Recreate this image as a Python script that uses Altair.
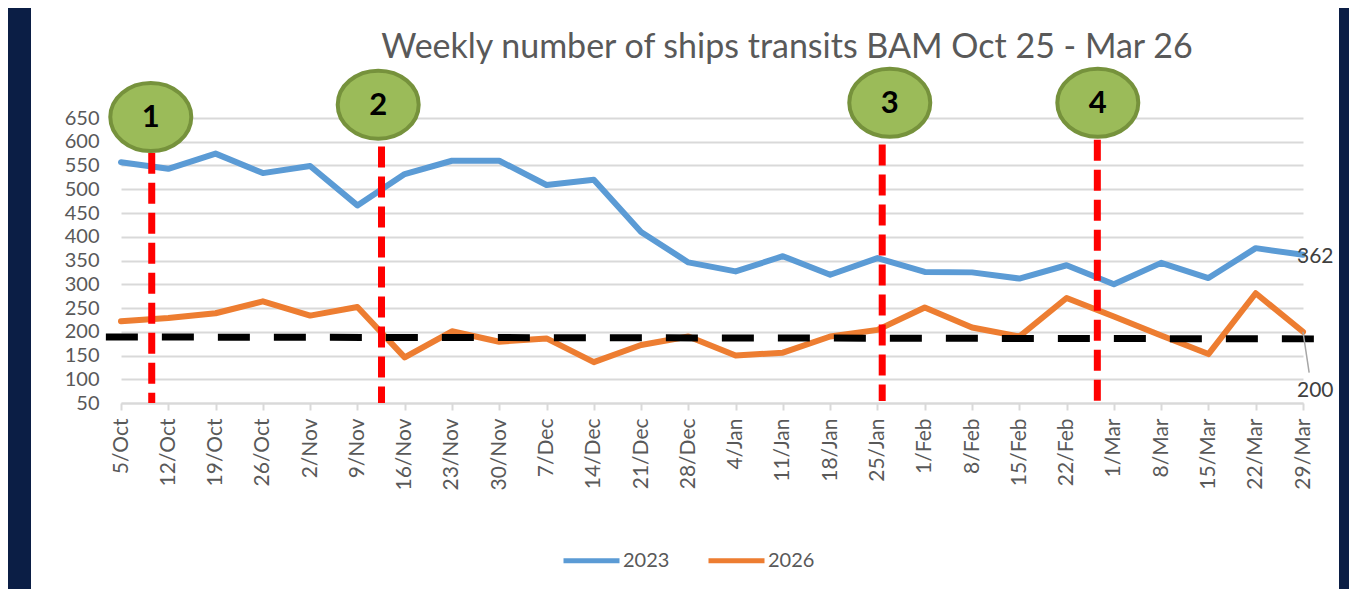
import altair as alt
import pandas as pd

weeks = ["5/Oct", "12/Oct", "19/Oct", "26/Oct", "2/Nov", "9/Nov", "16/Nov", "23/Nov",
         "30/Nov", "7/Dec", "14/Dec", "21/Dec", "28/Dec", "4/Jan", "11/Jan", "18/Jan",
         "25/Jan", "1/Feb", "8/Feb", "15/Feb", "22/Feb", "1/Mar", "8/Mar", "15/Mar",
         "22/Mar", "29/Mar"]
ships_2023 = [557, 543, 575, 534, 549, 466, 532, 560, 560, 509, 520, 410, 346, 327,
              359, 320, 355, 326, 325, 312, 340, 300, 345, 313, 376, 362]
ships_2026 = [222, 229, 239, 264, 234, 252, 146, 201, 179, 186, 136, 172, 190, 150,
              156, 190, 204, 251, 209, 190, 271, 232, 192, 153, 281, 200]
series_names = ["2023", "2026"]
series_colors = ["#5B9BD5", "#ED7D31"]
y_ticks = list(range(50, 651, 50))

# event markers (fractional week positions)
event_labels = ["1", "2", "3", "4"]
event_x = [0.65, 5.51, 16.1, 20.65]
event_top = [577, 590, 594, 604]
event_bottom = [50, 50, 54, 38]
badge_x = [0.63, 5.44, 16.26, 20.66]
badge_y = [652, 678, 682, 682]

# dashed reference (trend) line
trend_x = [-0.32, 25.23]
trend_y = [189, 185]

title_text = "Weekly number of ships transits BAM Oct 25 - Mar 26"
last_2023 = ships_2023[-1]
last_2026 = ships_2026[-1]

FONT = "Lato"
GREY = "#595959"

n = len(weeks)
X_DOM = [0, n - 1]
Y_DOM = [50, 650]

rows = []
for name, vals in zip(series_names, [ships_2023, ships_2026]):
    for i, v in enumerate(vals):
        rows.append({"x": i, "y": v, "s": name})
df = pd.DataFrame(rows)

label_expr = "[" + ",".join("'" + w + "'" for w in weeks) + "][datum.value]"

X_AXIS = alt.Axis(values=list(range(n)), labelExpr=label_expr, title=None, grid=False,
                  labelAngle=270, labelFont=FONT, labelFontSize=21, labelColor=GREY,
                  labelPadding=8, labelOverlap=False, labelFlush=False, labelBound=False,
                  domainColor="#D9D9D9", domainWidth=2, tickColor="#D9D9D9",
                  tickWidth=2, tickSize=7)
Y_AXIS = alt.Axis(values=y_ticks, tickCount=len(y_ticks), title=None, domain=False,
                  ticks=False, grid=True, gridColor="#D9D9D9", gridWidth=2,
                  labelFont=FONT, labelFontSize=20, labelColor=GREY, labelPadding=22,
                  labelOverlap=False, labelFlush=False, labelBound=False)


def xs(field="x:Q"):
    return alt.X(field, scale=alt.Scale(domain=X_DOM, nice=False, zero=False), axis=X_AXIS)


def ys(field="y:Q"):
    return alt.Y(field, scale=alt.Scale(domain=Y_DOM, nice=False, zero=False), axis=Y_AXIS)


lines = alt.Chart(df).mark_line(strokeWidth=6, strokeCap="round", strokeJoin="round").encode(
    x=xs(), y=ys(),
    color=alt.Color("s:N", scale=alt.Scale(domain=series_names, range=series_colors),
                    legend=alt.Legend(title=None, orient="none", legendX=440, legendY=412,
                                      direction="horizontal", symbolType="stroke",
                                      symbolSize=3136, symbolStrokeWidth=5,
                                      labelFont=FONT, labelFontSize=20, labelColor=GREY,
                                      labelOffset=1, columnPadding=28)),
    detail="s:N",
)

trend_df = pd.DataFrame({"x": [trend_x[0]], "x2": [trend_x[1]],
                         "y": [trend_y[0]], "y2": [trend_y[1]]})
trend = alt.Chart(trend_df).mark_rule(color="black", strokeWidth=7, strokeDash=[32, 24]).encode(
    x=xs(), x2="x2:Q", y=ys(), y2="y2:Q")

ev_df = pd.DataFrame({"x": event_x, "y": event_top, "y2": event_bottom})
events = alt.Chart(ev_df).mark_rule(color="#FF0000", strokeWidth=7, strokeDash=[21, 9]).encode(
    x=xs(), y=ys(), y2="y2:Q")

ellipse = "M-1,0A1,0.84,0,1,1,1,0A1,0.84,0,1,1,-1,0Z"
badge_df = pd.DataFrame({"x": badge_x, "y": badge_y, "t": event_labels})
badges = alt.Chart(badge_df).mark_point(shape=ellipse, size=6561, fill="#9BBB59",
                                        fillOpacity=1, stroke="#76923C", strokeWidth=4,
                                        opacity=1).encode(x=xs(), y=ys())
badge_txt = alt.Chart(badge_df).mark_text(font=FONT, fontWeight="bold", fontSize=31,
                                          color="black", baseline="middle", dy=1).encode(
    x=xs(), y=ys(), text="t:N")

end_df1 = pd.DataFrame({"x": [n - 1], "y": [last_2023], "t": [str(last_2023)]})
end1 = alt.Chart(end_df1).mark_text(font=FONT, fontSize=21, color="#404040", align="left",
                                    baseline="middle", dx=-6, dy=2).encode(
    x=xs(), y=ys(), text="t:N")
end_df2 = pd.DataFrame({"x": [n - 1], "y": [last_2026], "t": [str(last_2026)]})
end2 = alt.Chart(end_df2).mark_text(font=FONT, fontSize=21, color="#404040", align="left",
                                    baseline="middle", dx=-6, dy=59).encode(
    x=xs(), y=ys(), text="t:N")
leader_df = pd.DataFrame({"x": [n - 1], "x2": [n - 1 + 0.13], "y": [last_2026], "y2": [114]})
leader = alt.Chart(leader_df).mark_rule(color="#A6A6A6", strokeWidth=1.5).encode(
    x=xs(), x2="x2:Q", y=ys(), y2="y2:Q")

title_df = pd.DataFrame({"t": [title_text]})
title = alt.Chart(title_df).mark_text(font=FONT, fontSize=34, color=GREY, align="center",
                                      baseline="alphabetic").encode(
    x=alt.value(666), y=alt.value(-60), text="t:N")

strip_df = pd.DataFrame({"k": [0]})
navy_left = alt.Chart(strip_df).mark_rect(color="#0B1E45").encode(
    x=alt.value(-113), x2=alt.value(-90), y=alt.value(-110), y2=alt.value(471))
navy_right = alt.Chart(strip_df).mark_rect(color="#0B1E45").encode(
    x=alt.value(1218), x2=alt.value(1228), y=alt.value(-110), y2=alt.value(471))

chart = alt.layer(
    lines, navy_left, navy_right, trend, events, leader, badges, badge_txt, end1, end2, title
).properties(
    width=1182, height=285,
    autosize=alt.AutoSizeParams(type="none"),
    padding={"left": 113, "top": 110, "right": 46, "bottom": 186},
    background="white",
).configure_view(stroke=None).configure_axis(labelOverlap=False)

chart.save("out.html", embed_options={"renderer": "svg", "actions": False})
